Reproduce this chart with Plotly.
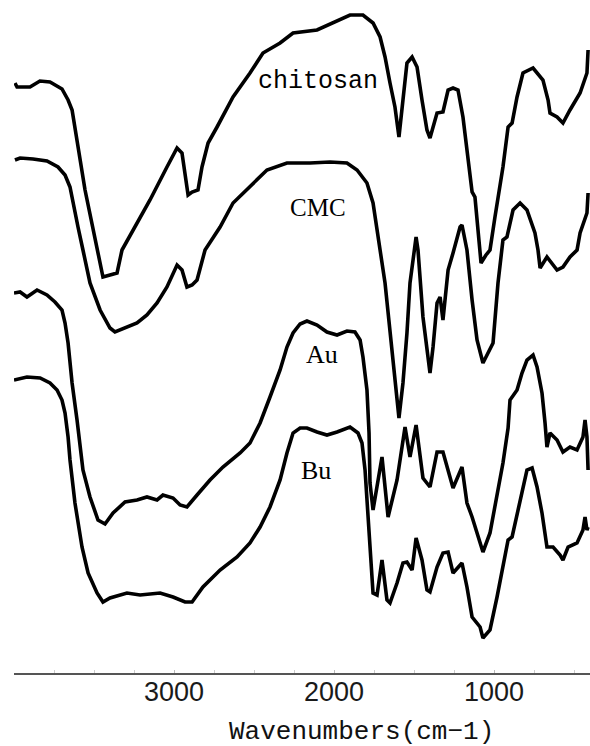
import plotly.graph_objects as go

# FTIR spectra, stacked with vertical offsets (transmittance, arbitrary units)
chitosan_wn = [3994, 3981, 3900, 3838, 3775, 3700, 3662, 3637, 3556, 3481, 3444, 3400, 3356, 3325,
               3256, 3150, 3044, 2981, 2950, 2912, 2887, 2850, 2825, 2787, 2731, 2631, 2525, 2444,
               2337, 2256, 2106, 2006, 1900, 1819, 1756, 1712, 1681, 1650, 1619, 1594, 1569, 1544,
               1512, 1481, 1450, 1419, 1400, 1381, 1356, 1319, 1287, 1256, 1225, 1194, 1162, 1137,
               1119, 1100, 1081, 1050, 1025, 994, 944, 912, 887, 856, 819, 756, 694, 662, 650, 606,
               569, 525, 462, 419, 412]
chitosan_t = [590, 586, 586, 592, 591, 584, 573, 563, 483, 423, 396, 398, 400, 423,
              443, 473, 506, 525, 520, 478, 481, 483, 506, 530, 546, 576, 600, 620,
              630, 640, 643, 650, 658, 658, 650, 636, 616, 590, 566, 536, 573, 610,
              616, 606, 573, 543, 535, 546, 560, 561, 583, 585, 583, 556, 510, 481,
              476, 446, 410, 418, 423, 456, 506, 546, 550, 576, 600, 605, 593, 573, 560, 556,
              550, 563, 580, 600, 623]

cmc_wn = [3994, 3962, 3881, 3794, 3725, 3681, 3650, 3631, 3600, 3569, 3525, 3462, 3400, 3369,
          3294, 3231, 3169, 3106, 3044, 2981, 2950, 2919, 2887, 2856, 2806, 2712, 2631, 2506,
          2419, 2294, 2150, 2025, 1919, 1856, 1794, 1756, 1731, 1712, 1681, 1650, 1619, 1594,
          1569, 1544, 1525, 1500, 1487, 1475, 1444, 1400, 1381, 1356, 1337, 1319, 1306, 1287,
          1256, 1212, 1200, 1169, 1137, 1106, 1069, 1037, 1006, 975, 950, 944, 919, 881, 837,
          794, 744, 725, 712, 669, 606, 569, 525, 481, 462, 419, 412]
cmc_t = [513, 515, 514, 512, 506, 498, 486, 470, 446, 423, 390, 363, 345, 341,
         346, 350, 358, 370, 386, 408, 403, 386, 388, 393, 423, 446, 470, 490,
         503, 510, 510, 511, 510, 503, 490, 470, 446, 423, 390, 340, 290, 255,
         290, 340, 390, 423, 436, 423, 356, 300, 326, 370, 376, 353, 373, 403,
         420, 446, 448, 423, 373, 333, 310, 320, 330, 390, 423, 433, 436, 463, 470,
         463, 440, 423, 405, 416, 403, 406, 416, 423, 440, 460, 480]

au_wn = [4000, 3962, 3919, 3856, 3794, 3744, 3700, 3681, 3662, 3637, 3606, 3569, 3525, 3475,
         3431, 3381, 3306, 3231, 3169, 3106, 3069, 3006, 2962, 2919, 2856, 2775, 2694, 2587,
         2525, 2462, 2400, 2337, 2294, 2256, 2212, 2169, 2106, 2044, 1981, 1919, 1869, 1837,
         1819, 1794, 1781, 1775, 1756, 1700, 1662, 1606, 1556, 1525, 1487, 1444, 1400, 1356,
         1319, 1256, 1200, 1169, 1137, 1069, 1025, 981, 944, 912, 900, 856, 825, 794, 756,
         731, 700, 681, 669, 650, 606, 569, 525, 481, 444, 431, 419, 412]
au_t = [380, 381, 376, 383, 378, 371, 363, 350, 330, 290, 253, 203, 176, 153,
        149, 160, 171, 173, 176, 173, 178, 175, 168, 166, 178, 193, 206, 220,
        230, 250, 276, 303, 326, 340, 349, 352, 348, 341, 338, 342, 341, 333,
        316, 283, 240, 190, 163, 216, 156, 193, 246, 216, 248, 195, 186, 221,
        221, 185, 206, 170, 156, 121, 140, 176, 210, 245, 273, 283, 300, 313, 318,
        306, 280, 250, 226, 240, 233, 221, 226, 223, 236, 253, 236, 203]

bu_wn = [4000, 3919, 3837, 3775, 3731, 3700, 3681, 3662, 3650, 3619, 3575, 3537, 3481, 3444,
         3400, 3294, 3212, 3087, 3006, 2931, 2887, 2819, 2712, 2606, 2525, 2462, 2400, 2337,
         2294, 2256, 2212, 2169, 2106, 2044, 1981, 1900, 1850, 1825, 1806, 1794, 1775, 1756,
         1731, 1700, 1669, 1650, 1606, 1569, 1544, 1512, 1487, 1450, 1419, 1400, 1356, 1319,
         1287, 1256, 1200, 1169, 1137, 1087, 1069, 1025, 981, 944, 912, 887, 837, 794, 762,
         731, 700, 669, 631, 587, 569, 537, 481, 444, 431, 419, 412]
bu_t = [293, 296, 295, 290, 283, 273, 260, 236, 213, 170, 126, 100, 80, 71,
        75, 80, 78, 80, 76, 71, 71, 86, 103, 116, 130, 146, 166, 193,
        220, 240, 245, 245, 241, 238, 241, 246, 240, 230, 203, 170, 120, 80,
        78, 113, 73, 70, 90, 110, 111, 103, 135, 113, 83, 81, 106, 120,
        121, 100, 110, 86, 56, 46, 35, 43, 76, 106, 133, 136, 173, 203, 205,
        186, 160, 126, 126, 118, 113, 126, 130, 143, 156, 143, 146]

# curve names with the position of each name tag (wavenumber, offset transmittance)
names = ["chitosan", "CMC", "Au", "Bu"]
name_pos = [(2100, 592), (2100, 466), (2075, 319), (2112, 203)]
name_fonts = [("Liberation Mono", 25), ("Liberation Serif", 25),
              ("Liberation Serif", 26), ("Liberation Serif", 26)]

tick_vals = [3000, 2000, 1000]
tick_text = ["3000", "2000", "1000"]
x_title = "Wavenumbers(cm\u22121)"

series = [(chitosan_wn, chitosan_t), (cmc_wn, cmc_t), (au_wn, au_t), (bu_wn, bu_t)]

fig = go.Figure()
for (wn, t), nm in zip(series, names):
    fig.add_trace(go.Scatter(x=wn, y=t, mode="lines", name=nm,
                             line=dict(color="black", width=3.6)))

for nm, (xw, yt), (fam, sz) in zip(names, name_pos, name_fonts):
    fig.add_annotation(x=xw, y=yt, xref="x", yref="y", text=nm, showarrow=False,
                       font=dict(family=fam, size=sz, color="black"),
                       xanchor="center", yanchor="middle")

# axis title, placed below the tick labels
fig.add_annotation(x=1831, y=-0.088, xref="x", yref="paper", text=x_title, showarrow=False,
                   font=dict(family="Liberation Mono", size=26, color="#111"),
                   xanchor="center", yanchor="middle")

fig.update_layout(
    width=590, height=746,
    margin=dict(l=14, r=0, t=0, b=73),
    paper_bgcolor="white", plot_bgcolor="white",
    showlegend=False,
    xaxis=dict(range=[4000, 400], showgrid=False, zeroline=False,
               showline=True, linecolor="#555", linewidth=2,
               tickvals=tick_vals, ticktext=tick_text,
               ticks="inside", ticklen=3, tickcolor="#bbb",
               ticklabelstandoff=-6,
               tickfont=dict(family="Liberation Sans", size=27, color="#1a1a1a"),
               minor=dict(dtick=250, tick0=4000, ticks="inside", ticklen=3, tickcolor="#ccc")),
    yaxis=dict(range=[0, 673], visible=False, showgrid=False, zeroline=False),
)

fig.write_html("out.html")
